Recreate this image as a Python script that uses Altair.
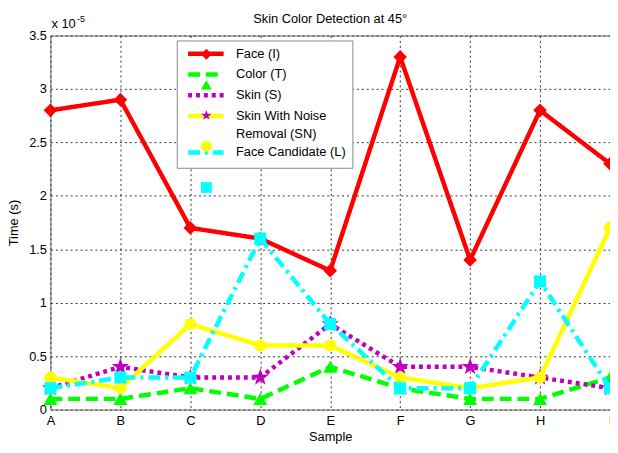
import math
import altair as alt
import pandas as pd

samples = ["A", "B", "C", "D", "E", "F", "G", "H", "I"]
series_names = ["Face (I)", "Color (T)", "Skin (S)",
                "Skin With Noise Removal (SN)", "Face Candidate (L)"]
face = [2.8, 2.9, 1.7, 1.6, 1.3, 3.3, 1.4, 2.8, 2.3]
color_t = [0.1, 0.1, 0.2, 0.1, 0.4, 0.2, 0.1, 0.1, 0.3]
skin = [0.2, 0.4, 0.3, 0.3, 0.8, 0.4, 0.4, 0.3, 0.2]
skin_nr = [0.3, 0.2, 0.8, 0.6, 0.6, 0.3, 0.2, 0.3, 1.7]
face_cand = [0.2, 0.3, 0.3, 1.6, 0.8, 0.2, 0.2, 1.2, 0.2]
y_ticks = [0, 0.5, 1, 1.5, 2, 2.5, 3, 3.5]

# five-pointed star symbol (unit coordinates) - Vega has no built-in star
pts = []
for k in range(10):
    r = 1.0 if k % 2 == 0 else 0.4
    a = math.radians(-90 + 36 * k)
    pts.append(f"{r * math.cos(a):.3f},{r * math.sin(a):.3f}")
STAR = "M" + "L".join(pts) + "Z"

colors = ["#FF0000", "#00FF00", "#BF00BF", "#FFFF00", "#00FFFF"]
dashes = [[1, 0], [12, 6], [4, 4], [1, 0], [12, 5, 3, 5]]
shapes = ["diamond", "triangle-up", STAR, "circle", "square"]
msizes = [190, 200, 330, 150, 150]

PFX = "m|"  # marker-legend keys, kept distinct so the two legends do not merge
marker_names = [PFX + n for n in series_names]

all_series = [face, color_t, skin, skin_nr, face_cand]
rows = []
for name, vals in zip(series_names, all_series):
    for s, v in zip(samples, vals):
        rows.append({"sample": s, "series": name, "series2": PFX + name, "value": v})
df = pd.DataFrame(rows)

FONT = "Liberation Sans"
line_label_expr = ("datum.label == 'Skin With Noise Removal (SN)' ? "
                   "['Skin With Noise', 'Removal (SN)'] : datum.label")
mark_label_expr = ("datum.label == 'm|Skin With Noise Removal (SN)' ? "
                   "['Skin With Noise', 'Removal (SN)'] : replace(datum.label, 'm|', '')")

common_leg = dict(title=None, orient="none", legendX=128, legendY=5,
                  labelFont=FONT, labelFontSize=13, labelLimit=0,
                  symbolOffset=16, labelOffset=23, symbolStrokeWidth=4.5,
                  padding=6, rowPadding=2)

line_legend = alt.Legend(symbolType="M-3.6,0H3.6", symbolSize=100,
                         fillColor="white", strokeColor="#888888", zindex=1,
                         labelColor="black", labelExpr=line_label_expr,
                         **common_leg)
mark_legend = alt.Legend(symbolSize=121, symbolStrokeColor="rgba(0,0,0,0)",
                         labelColor="rgba(0,0,0,0)", zindex=2,
                         labelExpr=mark_label_expr, **common_leg)

x_enc = alt.X("sample:O", sort=samples,
              scale=alt.Scale(type="point", padding=0),
              axis=alt.Axis(labelAngle=0, title="Sample", grid=True,
                            gridDash=[2, 3], gridColor="#333333", ticks=False,
                            domain=False, labelFont=FONT, labelFontSize=13,
                            labelPadding=5, titleFont=FONT, titleFontSize=13,
                            titleFontWeight="normal", titlePadding=3,
                            labelColor="black", titleColor="black"))
y_enc = alt.Y("value:Q", scale=alt.Scale(domain=[0, 3.5], nice=False),
              axis=alt.Axis(values=y_ticks, format="~g", title="Time (s)",
                            grid=True, gridDash=[2, 3], gridColor="#333333",
                            ticks=False, domain=False, labelFont=FONT,
                            labelFontSize=13, labelPadding=4, titleFont=FONT,
                            titleFontSize=13, titleFontWeight="normal",
                            titlePadding=8, labelColor="black",
                            titleColor="black"))

color_enc = alt.Color("series:N", scale=alt.Scale(domain=series_names, range=colors),
                      legend=line_legend)
dash_enc = alt.StrokeDash("series:N", scale=alt.Scale(domain=series_names, range=dashes),
                          legend=line_legend)
fill_enc = alt.Fill("series2:N", scale=alt.Scale(domain=marker_names, range=colors),
                    legend=mark_legend)
shape_enc = alt.Shape("series2:N", scale=alt.Scale(domain=marker_names, range=shapes),
                      legend=mark_legend)

base = alt.Chart()
layers = []
for i, name in enumerate(series_names):
    layers.append(
        base.mark_line(strokeWidth=4.5, strokeCap="butt")
        .transform_filter(alt.datum.series == name)
        .encode(x=x_enc, y=y_enc, color=color_enc, strokeDash=dash_enc)
    )
    layers.append(
        base.mark_point(filled=True, size=msizes[i], opacity=1)
        .transform_filter(alt.datum.series == name)
        .encode(x=x_enc, y=y_enc, fill=fill_enc, shape=shape_enc)
    )

mult_df = pd.DataFrame({"t": ["x 10"]})
exp_df = pd.DataFrame({"t": ["-5"]})
mult = alt.Chart(mult_df).mark_text(align="left", baseline="alphabetic",
                                    font=FONT, fontSize=13, color="black").encode(
    text="t:N", x=alt.value(1), y=alt.value(-8))
expo = alt.Chart(exp_df).mark_text(align="left", baseline="alphabetic",
                                   font=FONT, fontSize=9, color="black").encode(
    text="t:N", x=alt.value(27), y=alt.value(-14))

chart = alt.layer(*layers, mult, expo, data=df).properties(
    width=567, height=379,
    padding={"left": 43, "top": 25, "right": 0, "bottom": 33},
    autosize=alt.AutoSizeParams(type="none"),
    title=alt.TitleParams("Skin Color Detection at 45°", font=FONT, fontSize=13,
                          fontWeight="normal", color="black", offset=-11,
                          anchor="middle"),
    background="white",
).configure(style={"guide-label": {"lineHeight": 18}}).configure_view(
    stroke="#666666", strokeWidth=1)

chart.save("out.html", embed_options={"renderer": "svg", "actions": False})
